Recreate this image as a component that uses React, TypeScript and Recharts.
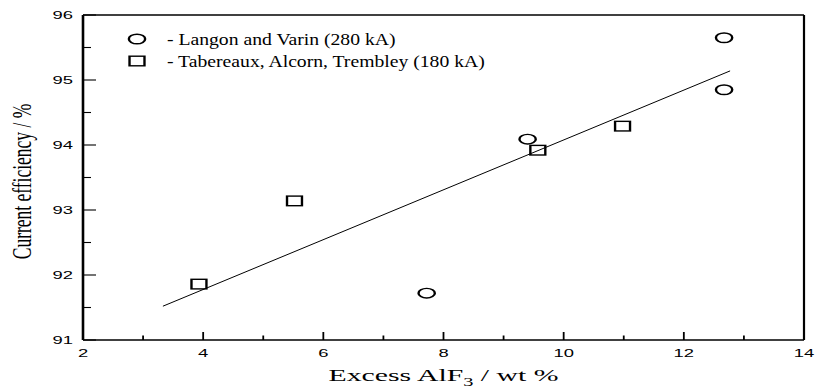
import { ScatterChart, Scatter, XAxis, YAxis, Legend } from 'recharts';

// axis ticks
const X_MAJOR = [2, 4, 6, 8, 10, 12, 14];
const X_ALL = [2, 3, 4, 5, 6, 7, 8, 9, 10, 11, 12, 13, 14];
const Y_MAJOR = [91, 92, 93, 94, 95, 96];
const Y_ALL = [91, 91.5, 92, 92.5, 93, 93.5, 94, 94.5, 95, 95.5, 96];

// Langon and Varin (280 kA)
const langonX = [12.67, 12.67, 9.4, 7.72];
const langonY = [95.65, 94.85, 94.09, 91.72];

// Tabereaux, Alcorn, Trembley (180 kA)
const tabX = [3.93, 5.52, 9.57, 10.98];
const tabY = [91.86, 93.14, 93.92, 94.29];

// fitted line end points
const fitX = [3.33, 12.77];
const fitY = [91.52, 95.14];

const SERIES_NAMES = ['- Langon and Varin (280 kA)', '- Tabereaux, Alcorn, Trembley (180 kA)'];

const langonData = langonX.map((x, i) => ({ x, y: langonY[i] }));
const tabData = tabX.map((x, i) => ({ x, y: tabY[i] }));
const fitData = fitX.map((x, i) => ({ x, y: fitY[i] }));

const SX = 1.7; // horizontal stretch of the original picture
const SANS = '"Liberation Sans", Arial, sans-serif';
const SERIF = '"Liberation Serif", "Times New Roman", serif';

const CircleMark = ({ cx, cy }: any) => (
  <g transform={`translate(${cx},${cy}) scale(${SX},1)`}>
    <circle r={4.8} fill="none" stroke="#000" strokeWidth={1.4} />
  </g>
);

const SquareMark = ({ cx, cy }: any) => (
  <g transform={`translate(${cx},${cy}) scale(${SX},1)`}>
    <rect x={-4.4} y={-4.8} width={8.8} height={9.6} fill="none" stroke="#000" strokeWidth={1.4} />
  </g>
);

const NoMark = () => <g />;

const BottomTick = ({ x, y, payload }: any) => {
  const major = X_MAJOR.includes(payload.value);
  return (
    <g>
      <line x1={x} x2={x} y1={y} y2={y - (major ? 8 : 4.5)} stroke="#000" strokeWidth={1.8} />
      {major && (
        <text
          transform={`translate(${x},${y + 17}) scale(1.6,1)`}
          textAnchor="middle"
          fontFamily={SANS}
          fontSize={11.5}
          fill="#000"
        >
          {payload.value}
        </text>
      )}
    </g>
  );
};

const TopTick = ({ x, y, payload }: any) => {
  const major = X_MAJOR.includes(payload.value);
  return <line x1={x} x2={x} y1={y} y2={y + (major ? 8 : 4.5)} stroke="#000" strokeWidth={1.8} />;
};

const LeftTick = ({ x, y, payload }: any) => {
  const major = Y_MAJOR.includes(payload.value);
  return (
    <g>
      <line x1={x} x2={x + (major ? 13 : 8)} y1={y} y2={y} stroke="#000" strokeWidth={1.1} />
      {major && (
        <text
          transform={`translate(${x - 10},${y + 4}) scale(1.6,1)`}
          textAnchor="end"
          fontFamily={SANS}
          fontSize={11.5}
          fill="#000"
        >
          {payload.value}
        </text>
      )}
    </g>
  );
};

const RightTick = ({ x, y, payload }: any) => {
  const major = Y_MAJOR.includes(payload.value);
  return <line x1={x} x2={x - (major ? 13 : 8)} y1={y} y2={y} stroke="#000" strokeWidth={1.1} />;
};

const XTitle = ({ viewBox }: any) => (
  <text
    transform={`translate(${viewBox.x + viewBox.width / 2},${viewBox.y + 41}) scale(${SX},1)`}
    textAnchor="middle"
    fontFamily={SERIF}
    fontSize={17.5}
    fill="#000"
  >
    Excess AlF
    <tspan dy={5} fontSize={12}>3</tspan>
    <tspan dy={-5}> / wt %</tspan>
  </text>
);

const YTitle = ({ viewBox }: any) => (
  <text
    transform={`translate(31,${viewBox.y + viewBox.height / 2 + 4}) scale(1.55,1) rotate(-90)`}
    textAnchor="middle"
    fontFamily={SERIF}
    fontSize={17.5}
    fill="#000"
  >
    Current efficiency / %
  </text>
);

const LegendBox = () => (
  <svg width={520} height={75} style={{ display: 'block' }}>
    {SERIES_NAMES.map((name, i) => {
      const cy = 39 + i * 22;
      return (
        <g key={name}>
          {i === 0 ? <CircleMark cx={137} cy={cy} /> : <SquareMark cx={137} cy={cy} />}
          <text
            transform={`translate(167,${cy + 5.5}) scale(1.23,1)`}
            fontFamily={SERIF}
            fontSize={16}
            fill="#000"
          >
            {name}
          </text>
        </g>
      );
    })}
  </svg>
);

export default function App() {
  return (
    <div style={{ position: 'absolute', left: 0, top: 0, background: '#fff' }}>
      <ScatterChart width={816} height={390} margin={{ top: 0, right: 0, bottom: 0, left: 0 }}>
        <XAxis
          dataKey="x"
          type="number"
          domain={[2, 14]}
          ticks={X_ALL}
          interval={0}
          height={50}
          tickSize={0}
          tickMargin={0}
          tick={BottomTick}
          axisLine={{ stroke: '#000', strokeWidth: 1.4 }}
          label={{ content: XTitle }}
        />
        <XAxis
          xAxisId="top"
          orientation="top"
          dataKey="x"
          type="number"
          domain={[2, 14]}
          ticks={X_ALL}
          interval={0}
          height={15}
          tickSize={0}
          tickMargin={0}
          tick={TopTick}
          axisLine={{ stroke: '#000', strokeWidth: 1.3 }}
        />
        <YAxis
          dataKey="y"
          type="number"
          domain={[91, 96]}
          ticks={Y_ALL}
          interval={0}
          width={83}
          tickSize={0}
          tickMargin={0}
          tick={LeftTick}
          axisLine={{ stroke: '#000', strokeWidth: 2.6 }}
          label={{ content: YTitle }}
        />
        <YAxis
          yAxisId="right"
          orientation="right"
          dataKey="y"
          type="number"
          domain={[91, 96]}
          ticks={Y_ALL}
          interval={0}
          width={12}
          tickSize={0}
          tickMargin={0}
          tick={RightTick}
          axisLine={{ stroke: '#000', strokeWidth: 2.2 }}
        />
        <Legend
          layout="vertical"
          align="center"
          verticalAlign="middle"
          wrapperStyle={{ left: 0, top: 0, width: 520, height: 75 }}
          content={LegendBox}
        />
        <Scatter
          name="fit"
          data={fitData}
          line={{ stroke: '#000', strokeWidth: 1 }}
          shape={NoMark}
          legendType="none"
          isAnimationActive={false}
        />
        <Scatter name={SERIES_NAMES[0]} data={langonData} shape={CircleMark} isAnimationActive={false} />
        <Scatter name={SERIES_NAMES[1]} data={tabData} shape={SquareMark} isAnimationActive={false} />
      </ScatterChart>
    </div>
  );
}
